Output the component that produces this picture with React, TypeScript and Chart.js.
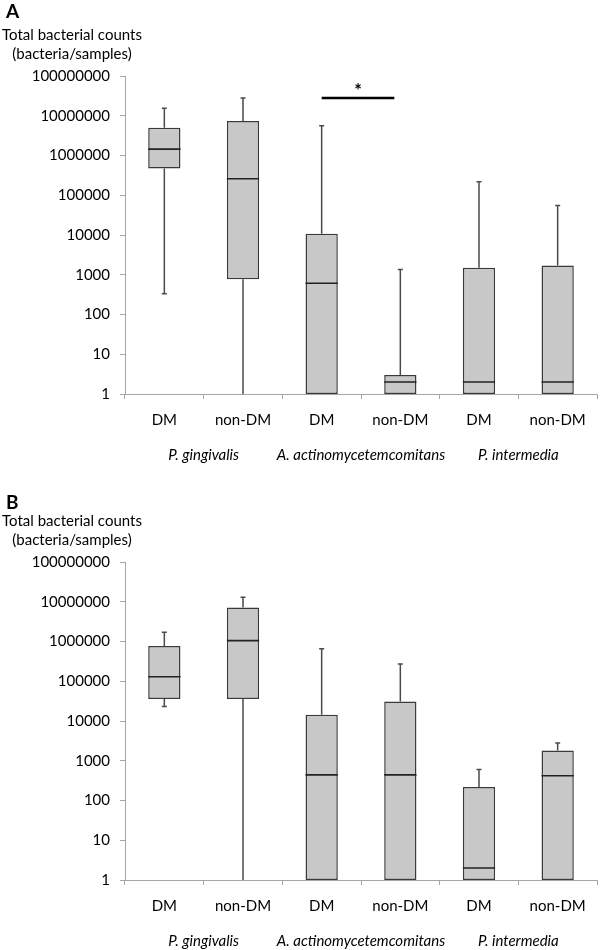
import React, { useEffect, useRef } from "react";
import { Chart, registerables } from "chart.js";

Chart.register(...registerables);

const categories = ["DM", "non-DM", "DM", "non-DM", "DM", "non-DM"];
const species = ["P. gingivalis", "A. actinomycetemcomitans", "P. intermedia"];
const yTickValues = [1, 10, 100, 1000, 10000, 100000, 1000000, 10000000, 100000000];

// Panel A
const minA = [335, 1, 1, 1, 1, 1];
const q1A = [470000, 770, 1, 1, 1, 1];
const medA = [1450000, 260000, 610, 2, 2, 2];
const q3A = [5000000, 7400000, 10800, 3, 1500, 1700];
const maxA = [15500000, 28000000, 5600000, 1350, 220000, 55000];

// Panel B
const minB = [23000, 1, 1, 1, 1, 1];
const q1B = [36000, 36000, 1, 1, 1, 1];
const medB = [130000, 1050000, 440, 440, 2, 420];
const q3B = [770000, 7200000, 14300, 31000, 220, 1800];
const maxB = [1700000, 13000000, 660000, 270000, 600, 2800];

// Significance marker (panel A)
const sigFrom = 2;
const sigTo = 3;
const sigValue = 28000000;
const sigLabel = "*";

const yTitle = ["Total bacterial counts", "(bacteria/samples)"];

const FONT = "Lato";

type PanelProps = {
  letter: string;
  letterBaseline: number;
  height: number;
  bottomPad: number;
  mins: number[];
  q1s: number[];
  meds: number[];
  q3s: number[];
  maxs: number[];
  sig?: { from: number; to: number; value: number; label: string };
};

function Panel(props: PanelProps) {
  const ref = useRef<HTMLCanvasElement | null>(null);
  useEffect(() => {
    const canvas = ref.current!;
    const { mins, q1s, meds, q3s, maxs, sig } = props;

    const boxPlugin = {
      id: "boxWhiskers",
      afterDatasetsDraw(chart: any) {
        const ctx = chart.ctx;
        const ys = chart.scales.y;
        const meta = chart.getDatasetMeta(0);
        ctx.save();
        meta.data.forEach((bar: any, i: number) => {
          const x = bar.x;
          const hw = bar.width / 2;
          const yq1 = ys.getPixelForValue(q1s[i]);
          const yq3 = ys.getPixelForValue(q3s[i]);
          const ymin = ys.getPixelForValue(mins[i]);
          const ymax = ys.getPixelForValue(maxs[i]);
          const ymed = ys.getPixelForValue(meds[i]);
          ctx.strokeStyle = "#4a4a4a";
          ctx.lineWidth = 1.5;
          if (maxs[i] > q3s[i]) {
            ctx.beginPath();
            ctx.moveTo(x, yq3);
            ctx.lineTo(x, ymax);
            ctx.moveTo(x - 2.5, ymax);
            ctx.lineTo(x + 2.5, ymax);
            ctx.stroke();
          }
          if (mins[i] < q1s[i]) {
            ctx.beginPath();
            ctx.moveTo(x, yq1);
            ctx.lineTo(x, ymin);
            if (mins[i] > 1) {
              ctx.moveTo(x - 2.5, ymin);
              ctx.lineTo(x + 2.5, ymin);
            }
            ctx.stroke();
          }
          ctx.strokeStyle = "#222";
          ctx.lineWidth = 1.6;
          ctx.beginPath();
          ctx.moveTo(x - hw, ymed);
          ctx.lineTo(x + hw, ymed);
          ctx.stroke();
        });
        if (sig) {
          const a = meta.data[sig.from].x;
          const b = meta.data[sig.to].x;
          const yy = ys.getPixelForValue(sig.value);
          ctx.strokeStyle = "#000";
          ctx.lineWidth = 2.5;
          ctx.beginPath();
          ctx.moveTo(a, yy);
          ctx.lineTo(b - 6, yy);
          ctx.stroke();
          ctx.fillStyle = "#000";
          ctx.font = `bold 18px ${FONT}`;
          ctx.textAlign = "center";
          ctx.textBaseline = "alphabetic";
          ctx.fillText(sig.label, (a + b - 6) / 2, yy - 1);
        }
        ctx.restore();
      },
      afterDraw(chart: any) {
        const ctx = chart.ctx;
        ctx.save();
        ctx.fillStyle = "#000";
        ctx.textBaseline = "alphabetic";
        ctx.textAlign = "left";
        ctx.font = `bold 19px ${FONT}`;
        ctx.fillText(props.letter, 6, props.letterBaseline);
        ctx.font = `15px ${FONT}`;
        ctx.textAlign = "center";
        ctx.fillText(yTitle[0], 72, 39.5);
        ctx.fillText(yTitle[1], 72, 59);
        ctx.restore();
      },
    };

    const chart = new Chart(canvas, {
      type: "bar",
      data: {
        labels: categories,
        datasets: [
          {
            data: q1s.map((q, i) => [q, q3s[i]]) as any,
            backgroundColor: "#c8c8c8",
            borderColor: "#3a3a3a",
            borderWidth: 1.5,
            borderSkipped: false,
            barPercentage: 0.41,
            categoryPercentage: 1,
          },
        ],
      },
      options: {
        responsive: false,
        animation: false,
        devicePixelRatio: 1,
        layout: { padding: { left: 0, right: 3, top: 76, bottom: props.bottomPad } },
        plugins: { legend: { display: false }, tooltip: { enabled: false } },
        scales: {
          x: {
            type: "category",
            offset: true,
            weight: 0,
            grid: { offset: true, drawOnChartArea: false, tickLength: 5, color: "#a6a6a6" },
            border: { color: "#a6a6a6" },
            ticks: {
              font: { family: FONT, size: 15 },
              color: "#000",
              padding: 12,
              maxRotation: 0,
              autoSkip: false,
            },
            afterFit: (s: any) => {
              s.height = 44;
            },
          },
          x2: {
            type: "category",
            labels: species,
            offset: true,
            position: "bottom",
            weight: 1,
            grid: { display: false, drawTicks: false },
            border: { display: false },
            ticks: {
              font: { family: FONT, size: 15, style: "italic" },
              color: "#000",
              padding: 8,
              maxRotation: 0,
              autoSkip: false,
            },
            afterFit: (s: any) => {
              s.height = 26;
            },
          },
          y: {
            type: "logarithmic",
            min: 1,
            max: 100000000,
            afterBuildTicks: (s: any) => {
              s.ticks = yTickValues.map((v) => ({ value: v }));
            },
            afterFit: (s: any) => {
              s.width = 125;
            },
            grid: { drawOnChartArea: false, tickLength: 5, color: "#a6a6a6" },
            border: { color: "#a6a6a6" },
            ticks: {
              font: { family: FONT, size: 15 },
              color: "#000",
              padding: 10,
              callback: (v: any) => String(v),
            },
          },
        } as any,
      },
      plugins: [boxPlugin],
    });
    return () => chart.destroy();
  }, []);
  return (
    <canvas
      ref={ref}
      width={600}
      height={props.height}
      style={{ display: "block", width: 600, height: props.height }}
    />
  );
}

export default function App() {
  return (
    <div style={{ position: "absolute", left: 0, top: 0, width: 600, height: 950, background: "#fff" }}>
      <Panel
        letter="A"
        letterBaseline={18}
        height={486}
        bottomPad={22}
        mins={minA}
        q1s={q1A}
        meds={medA}
        q3s={q3A}
        maxs={maxA}
        sig={{ from: sigFrom, to: sigTo, value: sigValue, label: sigLabel }}
      />
      <Panel
        letter="B"
        letterBaseline={23}
        height={464}
        bottomPad={0}
        mins={minB}
        q1s={q1B}
        meds={medB}
        q3s={q3B}
        maxs={maxB}
      />
    </div>
  );
}
